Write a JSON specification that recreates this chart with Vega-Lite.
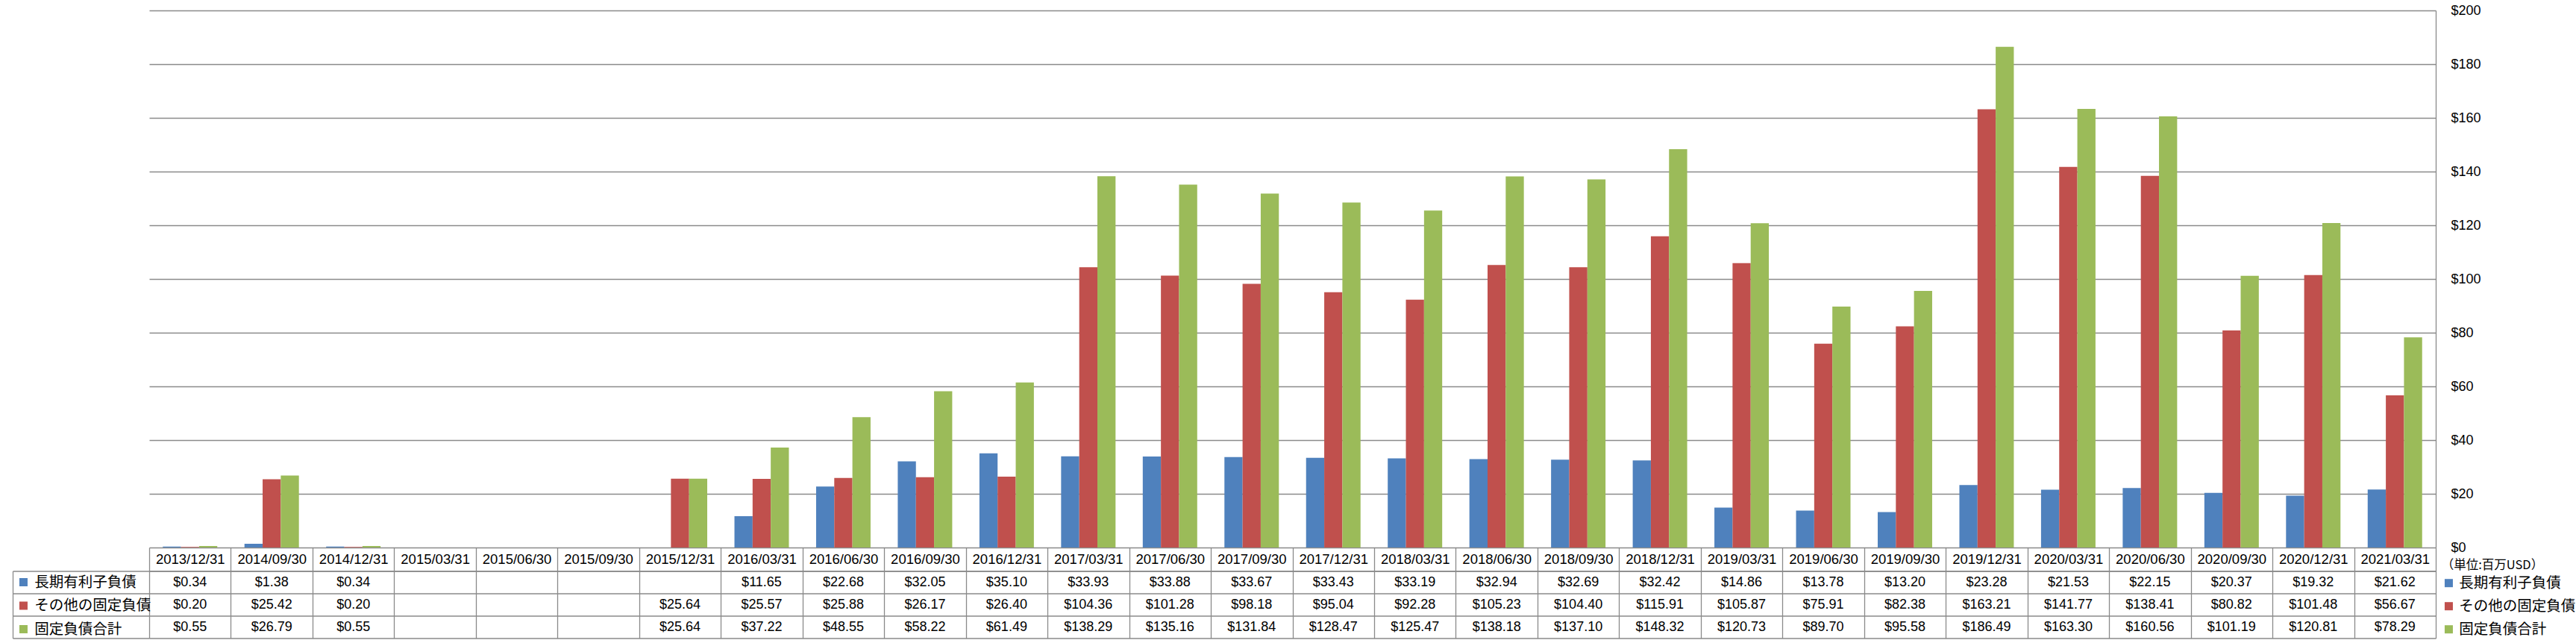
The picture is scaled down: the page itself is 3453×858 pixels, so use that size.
{
  "$schema": "https://vega.github.io/schema/vega-lite/v6.json",
  "autosize": {"type": "none"},
  "padding": {"left": 200, "top": 14, "right": 3253, "bottom": 844},
  "background": "white",
  "data": {"values": [
    {"date": "2013/12/31", "series": "長期有利子負債", "value": 0.34},
    {"date": "2013/12/31", "series": "その他の固定負債", "value": 0.20},
    {"date": "2013/12/31", "series": "固定負債合計", "value": 0.55},
    {"date": "2014/09/30", "series": "長期有利子負債", "value": 1.38},
    {"date": "2014/09/30", "series": "その他の固定負債", "value": 25.42},
    {"date": "2014/09/30", "series": "固定負債合計", "value": 26.79},
    {"date": "2014/12/31", "series": "長期有利子負債", "value": 0.34},
    {"date": "2014/12/31", "series": "その他の固定負債", "value": 0.20},
    {"date": "2014/12/31", "series": "固定負債合計", "value": 0.55},
    {"date": "2015/03/31", "series": "長期有利子負債", "value": null},
    {"date": "2015/03/31", "series": "その他の固定負債", "value": null},
    {"date": "2015/03/31", "series": "固定負債合計", "value": null},
    {"date": "2015/06/30", "series": "長期有利子負債", "value": null},
    {"date": "2015/06/30", "series": "その他の固定負債", "value": null},
    {"date": "2015/06/30", "series": "固定負債合計", "value": null},
    {"date": "2015/09/30", "series": "長期有利子負債", "value": null},
    {"date": "2015/09/30", "series": "その他の固定負債", "value": null},
    {"date": "2015/09/30", "series": "固定負債合計", "value": null},
    {"date": "2015/12/31", "series": "長期有利子負債", "value": null},
    {"date": "2015/12/31", "series": "その他の固定負債", "value": 25.64},
    {"date": "2015/12/31", "series": "固定負債合計", "value": 25.64},
    {"date": "2016/03/31", "series": "長期有利子負債", "value": 11.65},
    {"date": "2016/03/31", "series": "その他の固定負債", "value": 25.57},
    {"date": "2016/03/31", "series": "固定負債合計", "value": 37.22},
    {"date": "2016/06/30", "series": "長期有利子負債", "value": 22.68},
    {"date": "2016/06/30", "series": "その他の固定負債", "value": 25.88},
    {"date": "2016/06/30", "series": "固定負債合計", "value": 48.55},
    {"date": "2016/09/30", "series": "長期有利子負債", "value": 32.05},
    {"date": "2016/09/30", "series": "その他の固定負債", "value": 26.17},
    {"date": "2016/09/30", "series": "固定負債合計", "value": 58.22},
    {"date": "2016/12/31", "series": "長期有利子負債", "value": 35.10},
    {"date": "2016/12/31", "series": "その他の固定負債", "value": 26.40},
    {"date": "2016/12/31", "series": "固定負債合計", "value": 61.49},
    {"date": "2017/03/31", "series": "長期有利子負債", "value": 33.93},
    {"date": "2017/03/31", "series": "その他の固定負債", "value": 104.36},
    {"date": "2017/03/31", "series": "固定負債合計", "value": 138.29},
    {"date": "2017/06/30", "series": "長期有利子負債", "value": 33.88},
    {"date": "2017/06/30", "series": "その他の固定負債", "value": 101.28},
    {"date": "2017/06/30", "series": "固定負債合計", "value": 135.16},
    {"date": "2017/09/30", "series": "長期有利子負債", "value": 33.67},
    {"date": "2017/09/30", "series": "その他の固定負債", "value": 98.18},
    {"date": "2017/09/30", "series": "固定負債合計", "value": 131.84},
    {"date": "2017/12/31", "series": "長期有利子負債", "value": 33.43},
    {"date": "2017/12/31", "series": "その他の固定負債", "value": 95.04},
    {"date": "2017/12/31", "series": "固定負債合計", "value": 128.47},
    {"date": "2018/03/31", "series": "長期有利子負債", "value": 33.19},
    {"date": "2018/03/31", "series": "その他の固定負債", "value": 92.28},
    {"date": "2018/03/31", "series": "固定負債合計", "value": 125.47},
    {"date": "2018/06/30", "series": "長期有利子負債", "value": 32.94},
    {"date": "2018/06/30", "series": "その他の固定負債", "value": 105.23},
    {"date": "2018/06/30", "series": "固定負債合計", "value": 138.18},
    {"date": "2018/09/30", "series": "長期有利子負債", "value": 32.69},
    {"date": "2018/09/30", "series": "その他の固定負債", "value": 104.40},
    {"date": "2018/09/30", "series": "固定負債合計", "value": 137.10},
    {"date": "2018/12/31", "series": "長期有利子負債", "value": 32.42},
    {"date": "2018/12/31", "series": "その他の固定負債", "value": 115.91},
    {"date": "2018/12/31", "series": "固定負債合計", "value": 148.32},
    {"date": "2019/03/31", "series": "長期有利子負債", "value": 14.86},
    {"date": "2019/03/31", "series": "その他の固定負債", "value": 105.87},
    {"date": "2019/03/31", "series": "固定負債合計", "value": 120.73},
    {"date": "2019/06/30", "series": "長期有利子負債", "value": 13.78},
    {"date": "2019/06/30", "series": "その他の固定負債", "value": 75.91},
    {"date": "2019/06/30", "series": "固定負債合計", "value": 89.70},
    {"date": "2019/09/30", "series": "長期有利子負債", "value": 13.20},
    {"date": "2019/09/30", "series": "その他の固定負債", "value": 82.38},
    {"date": "2019/09/30", "series": "固定負債合計", "value": 95.58},
    {"date": "2019/12/31", "series": "長期有利子負債", "value": 23.28},
    {"date": "2019/12/31", "series": "その他の固定負債", "value": 163.21},
    {"date": "2019/12/31", "series": "固定負債合計", "value": 186.49},
    {"date": "2020/03/31", "series": "長期有利子負債", "value": 21.53},
    {"date": "2020/03/31", "series": "その他の固定負債", "value": 141.77},
    {"date": "2020/03/31", "series": "固定負債合計", "value": 163.30},
    {"date": "2020/06/30", "series": "長期有利子負債", "value": 22.15},
    {"date": "2020/06/30", "series": "その他の固定負債", "value": 138.41},
    {"date": "2020/06/30", "series": "固定負債合計", "value": 160.56},
    {"date": "2020/09/30", "series": "長期有利子負債", "value": 20.37},
    {"date": "2020/09/30", "series": "その他の固定負債", "value": 80.82},
    {"date": "2020/09/30", "series": "固定負債合計", "value": 101.19},
    {"date": "2020/12/31", "series": "長期有利子負債", "value": 19.32},
    {"date": "2020/12/31", "series": "その他の固定負債", "value": 101.48},
    {"date": "2020/12/31", "series": "固定負債合計", "value": 120.81},
    {"date": "2021/03/31", "series": "長期有利子負債", "value": 21.62},
    {"date": "2021/03/31", "series": "その他の固定負債", "value": 56.67},
    {"date": "2021/03/31", "series": "固定負債合計", "value": 78.29}
  ]},
  "vconcat": [
    {
      "width": 3065,
      "height": 720,
      "mark": {"type": "bar"},
      "encoding": {
        "x": {"field": "date", "type": "nominal",
          "scale": {"domain": ["2013/12/31","2014/09/30","2014/12/31","2015/03/31","2015/06/30","2015/09/30","2015/12/31","2016/03/31","2016/06/30","2016/09/30","2016/12/31","2017/03/31","2017/06/30","2017/09/30","2017/12/31","2018/03/31","2018/06/30","2018/09/30","2018/12/31","2019/03/31","2019/06/30","2019/09/30","2019/12/31","2020/03/31","2020/06/30","2020/09/30","2020/12/31","2021/03/31"], "paddingInner": 0.3333, "paddingOuter": 0.1667},
          "axis": null},
        "xOffset": {"field": "series", "type": "nominal",
          "scale": {"domain": ["長期有利子負債","その他の固定負債","固定負債合計"], "paddingInner": 0, "paddingOuter": 0}},
        "y": {"field": "value", "type": "quantitative",
          "scale": {"domain": [0, 200], "nice": false},
          "axis": {"orient": "right", "values": [0,20,40,60,80,100,120,140,160,180,200], "title": null, "ticks": false,
            "domain": true, "domainColor": "#8a8a8a", "domainWidth": 1.3,
            "grid": true, "gridColor": "#8a8a8a", "gridWidth": 1.3,
            "labelExpr": "'$' + datum.value", "labelFont": "Liberation Sans", "labelFontSize": 18, "labelColor": "black",
            "labelPadding": 20, "labelAlign": "left", "labelBaseline": "middle"}},
        "color": {"field": "series", "type": "nominal",
          "scale": {"domain": ["長期有利子負債","その他の固定負債","固定負債合計"], "range": ["#4F81BD","#C0504D","#9BBB59"]},
          "legend": {"orient": "none", "legendX": 3072.7, "legendY": 735.75, "title": "（単位:百万USD）",
            "titleFont": "Noto Sans CJK JP", "titleFontSize": 16.5, "titleFontWeight": "normal", "titleColor": "black", "titlePadding": 5.7,
            "symbolType": "square", "symbolSize": 121, "symbolStrokeWidth": 0, "symbolOpacity": 1,
            "labelFont": "Noto Sans CJK JP", "labelFontSize": 19.5, "labelColor": "black", "labelOffset": 4, "labelLimit": 400,
            "rowPadding": 10, "padding": 0}}
      }
    },
    {
      "width": 3065,
      "height": 90,
      "encoding": {
        "x": {"field": "date", "type": "nominal",
          "scale": {"domain": ["2013/12/31","2014/09/30","2014/12/31","2015/03/31","2015/06/30","2015/09/30","2015/12/31","2016/03/31","2016/06/30","2016/09/30","2016/12/31","2017/03/31","2017/06/30","2017/09/30","2017/12/31","2018/03/31","2018/06/30","2018/09/30","2018/12/31","2019/03/31","2019/06/30","2019/09/30","2019/12/31","2020/03/31","2020/06/30","2020/09/30","2020/12/31","2021/03/31"], "paddingInner": 0, "paddingOuter": 0},
          "axis": {"orient": "top", "tickBand": "extent", "ticks": true, "tickSize": 31.5, "tickColor": "#8a8a8a", "tickWidth": 1.3,
            "domain": true, "domainColor": "#8a8a8a", "domainWidth": 1.3,
            "grid": true, "gridColor": "#8a8a8a", "gridWidth": 1.3,
            "labelPadding": -15.75, "labelBaseline": "middle", "labelAlign": "center", "labelAngle": 0,
            "labelFont": "Liberation Sans", "labelFontSize": 18.5, "labelColor": "black",
            "labelOverlap": false, "labelLimit": 0, "labelFlush": false, "title": null}},
        "y": {"field": "series", "type": "nominal",
          "scale": {"domain": ["長期有利子負債","その他の固定負債","固定負債合計"], "paddingInner": 0, "paddingOuter": 0},
          "axis": {"orient": "left", "offset": 183, "tickBand": "extent", "ticks": true, "tickSize": -183, "tickColor": "#8a8a8a", "tickWidth": 1.3,
            "domain": true, "domainColor": "#8a8a8a", "domainWidth": 1.3,
            "grid": true, "gridColor": "#8a8a8a", "gridWidth": 1.3,
            "labels": false, "title": null}}
      },
      "layer": [
        {
          "transform": [{"filter": "isValid(datum.value)"}],
          "mark": {"type": "text", "font": "Liberation Sans", "fontSize": 18, "color": "black", "baseline": "middle", "align": "center"},
          "encoding": {"text": {"field": "value", "type": "quantitative", "format": "$.2f"}}
        },
        {
          "mark": {"type": "square", "size": 0, "filled": true},
          "encoding": {
            "color": {"field": "series", "type": "nominal",
              "scale": {"domain": ["長期有利子負債","その他の固定負債","固定負債合計"], "range": ["#4F81BD","#C0504D","#9BBB59"]},
              "legend": {"orient": "none", "legendX": -178.3, "legendY": 5.25, "title": null,
                "symbolType": "square", "symbolSize": 121, "symbolStrokeWidth": 0, "symbolOpacity": 1,
                "labelFont": "Noto Sans CJK JP", "labelFontSize": 19.5, "labelColor": "black", "labelOffset": 5, "labelLimit": 400,
                "rowPadding": 10.5, "padding": 0}}
          }
        }
      ]
    }
  ],
  "spacing": 31.5,
  "bounds": "flush",
  "resolve": {"scale": {"x": "independent", "y": "independent"}, "legend": {"color": "independent"}},
  "config": {"view": {"stroke": null}}
}
